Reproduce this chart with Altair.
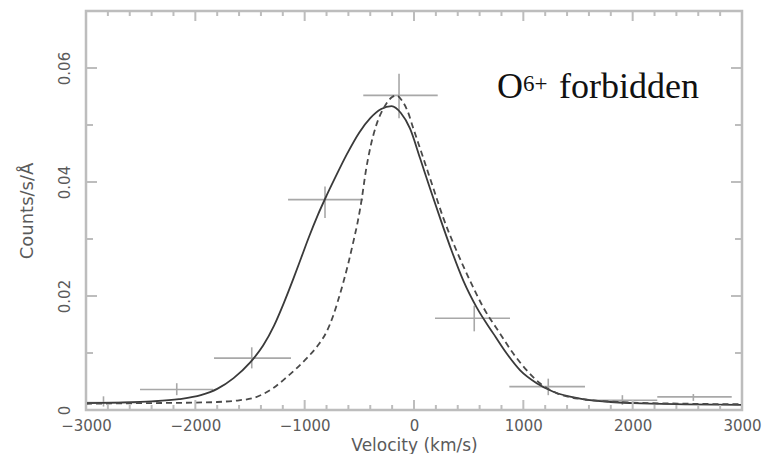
import altair as alt
import pandas as pd

# ---- data ----
solid_v = [-3000, -2700, -2400, -2150, -1950, -1800, -1650, -1500, -1380, -1280, -1190, -1104, -1030, -960, -880,
           -800, -720, -616, -500, -400, -300, -205, -120, -37, 55, 146, 238, 345, 451, 573, 726, 848, 969, 1122,
           1274, 1518, 1800, 2006, 2500, 3000]
solid_c = [0.0012, 0.0013, 0.0015, 0.0019, 0.0026, 0.0037, 0.0056, 0.0083, 0.0113, 0.0148, 0.0188, 0.0230, 0.0268,
           0.0304, 0.0342, 0.0376, 0.0408, 0.0448, 0.0487, 0.0512, 0.0528, 0.0533, 0.0521, 0.0494, 0.0442, 0.0389,
           0.0337, 0.0279, 0.0227, 0.0180, 0.0134, 0.0099, 0.0070, 0.0047, 0.0032, 0.0020, 0.0014, 0.0012, 0.0010,
           0.0009]

dash_v = [-3000, -2500, -2000, -1800, -1600, -1470, -1380, -1290, -1180, -1080, -980, -880, -800, -740, -690, -645,
          -600, -555, -515, -478, -440, -400, -341, -270, -200, -160, -110, -60, -6, 85, 177, 268, 390, 512, 634,
          787, 908, 1030, 1152, 1300, 1500, 2000, 2500, 3000]
dash_c = [0.0011, 0.0012, 0.0013, 0.0014, 0.0017, 0.0021, 0.0028, 0.0038, 0.0055, 0.0072, 0.0091, 0.0113, 0.0137,
          0.0165, 0.0195, 0.0225, 0.0258, 0.0295, 0.0330, 0.0370, 0.0420, 0.0460, 0.0502, 0.0532, 0.0549, 0.0552,
          0.0543, 0.0525, 0.0494, 0.0442, 0.0389, 0.0337, 0.0279, 0.0227, 0.0180, 0.0134, 0.0099, 0.0070, 0.0047,
          0.0030, 0.0020, 0.0013, 0.0011, 0.0010]

pt_v = [-2840, -2170, -1484, -814, -137, 551, 1228, 1906, 2555]
pt_vlo = [-3000, -2506, -1829, -1152, -464, 192, 872, 1564, 2225]
pt_vhi = [-2510, -1838, -1125, -466, 217, 878, 1564, 2225, 2906]
pt_c = [0.0013, 0.0036, 0.0091, 0.0369, 0.0552, 0.0161, 0.0041, 0.0017, 0.0023]
pt_clo = [0.0006, 0.0026, 0.0073, 0.0337, 0.0512, 0.0138, 0.0026, 0.0009, 0.0016]
pt_chi = [0.0024, 0.0047, 0.0110, 0.0392, 0.0590, 0.0183, 0.0055, 0.0026, 0.0028]

x_major = [-3000, -2000, -1000, 0, 1000, 2000, 3000]
x_minor = [-2800, -2600, -2400, -2200, -1800, -1600, -1400, -1200, -800, -600, -400, -200,
           200, 400, 600, 800, 1200, 1400, 1600, 1800, 2200, 2400, 2600, 2800]
y_major = [0, 0.02, 0.04, 0.06]
y_minor = [0.01, 0.03, 0.05]

label_main = "O"
label_sup = "6+"
label_rest = "forbidden"

W, H = 656, 399
AX = "#bdbdbd"
LAB = "#5a5a5a"

xs = alt.Scale(domain=[-3000, 3000], nice=False, zero=False)
ys = alt.Scale(domain=[0, 0.07], nice=False)

solid_df = pd.DataFrame({"v": solid_v, "c": solid_c})
dash_df = pd.DataFrame({"v": dash_v, "c": dash_c})
pts_df = pd.DataFrame({"v": pt_v, "vlo": pt_vlo, "vhi": pt_vhi, "c": pt_c, "clo": pt_clo, "chi": pt_chi})

x_axis = alt.Axis(values=x_major, format="d", ticks=False, domain=False, grid=False, labelFlush=False,
                  labelFont="DejaVu Sans", labelFontSize=15, labelColor=LAB, labelPadding=8,
                  title="Velocity (km/s)", titleFont="DejaVu Sans", titleFontSize=17, titleFontWeight="normal",
                  titleColor=LAB, titleX=W / 2, titleY=35, titleBaseline="middle", titleAlign="center")
y_axis = alt.Axis(values=y_major, ticks=False, domain=False, grid=False, labelFlush=False,
                  labelFont="DejaVu Sans", labelFontSize=15, labelColor=LAB, labelPadding=14, labelAngle=270,
                  labelAlign="center", labelBaseline="bottom",
                  labelExpr="datum.value == 0 ? '0' : format(datum.value, '.2f')",
                  title="Counts/s/\u00c5", titleFont="DejaVu Sans", titleFontSize=18, titleFontWeight="normal",
                  titleColor=LAB, titleX=-59, titleY=H / 2, titleAngle=270, titleBaseline="middle",
                  titleAlign="center")

hbars = alt.Chart(pts_df).mark_rule(color="#a8a8a8", strokeWidth=1.6).encode(
    x=alt.X("vlo:Q", scale=xs, axis=x_axis), x2="vhi:Q", y=alt.Y("c:Q", scale=ys, axis=y_axis))
vbars = alt.Chart(pts_df).mark_rule(color="#a8a8a8", strokeWidth=1.6).encode(
    x=alt.X("v:Q", scale=xs), y=alt.Y("clo:Q", scale=ys), y2="chi:Q")

solid = alt.Chart(solid_df).mark_line(color="#3a3a3a", strokeWidth=1.8, interpolate="monotone").encode(
    x=alt.X("v:Q", scale=xs), y=alt.Y("c:Q", scale=ys))
dashed = alt.Chart(dash_df).mark_line(color="#4a4a4a", strokeWidth=1.8, strokeDash=[6, 4],
                                      interpolate="monotone").encode(
    x=alt.X("v:Q", scale=xs), y=alt.Y("c:Q", scale=ys))

xmaj_df = pd.DataFrame({"t": x_major})
xmin_df = pd.DataFrame({"t": x_minor})
ymaj_df = pd.DataFrame({"t": y_major})
ymin_df = pd.DataFrame({"t": y_minor})


def xticks(df, length):
    b = alt.Chart(df).mark_rule(color=AX, strokeWidth=2).encode(
        x=alt.X("t:Q", scale=xs), y=alt.value(H), y2=alt.value(H - length))
    t = alt.Chart(df).mark_rule(color=AX, strokeWidth=2).encode(
        x=alt.X("t:Q", scale=xs), y=alt.value(0), y2=alt.value(length))
    return [b, t]


def yticks(df, length):
    l = alt.Chart(df).mark_rule(color=AX, strokeWidth=2).encode(
        y=alt.Y("t:Q", scale=ys), x=alt.value(0), x2=alt.value(length))
    r = alt.Chart(df).mark_rule(color=AX, strokeWidth=2).encode(
        y=alt.Y("t:Q", scale=ys), x=alt.value(W), x2=alt.value(W - length))
    return [l, r]


def word(s, size, px, py):
    return alt.Chart(pd.DataFrame({"s": [s]})).mark_text(
        font="Liberation Serif", fontSize=size, color="#111111", align="left", baseline="alphabetic").encode(
        text="s:N", x=alt.value(px), y=alt.value(py))


labels = [word(label_main, 36, 411, 87), word(label_sup, 23, 437, 80), word(label_rest, 36, 473, 87)]

layers = [hbars, vbars, solid, dashed] + xticks(xmaj_df, 10) + xticks(xmin_df, 5) + \
    yticks(ymaj_df, 11) + yticks(ymin_df, 7) + labels

chart = alt.layer(*layers).properties(
    width=W, height=H,
    autosize=alt.AutoSizeParams(type="none"),
    padding={"left": 86, "top": 11, "right": 20, "bottom": 44},
    background="white",
).configure_view(stroke=AX, strokeWidth=2.5)

chart.save("out.html", embed_options={"renderer": "svg", "actions": False})
